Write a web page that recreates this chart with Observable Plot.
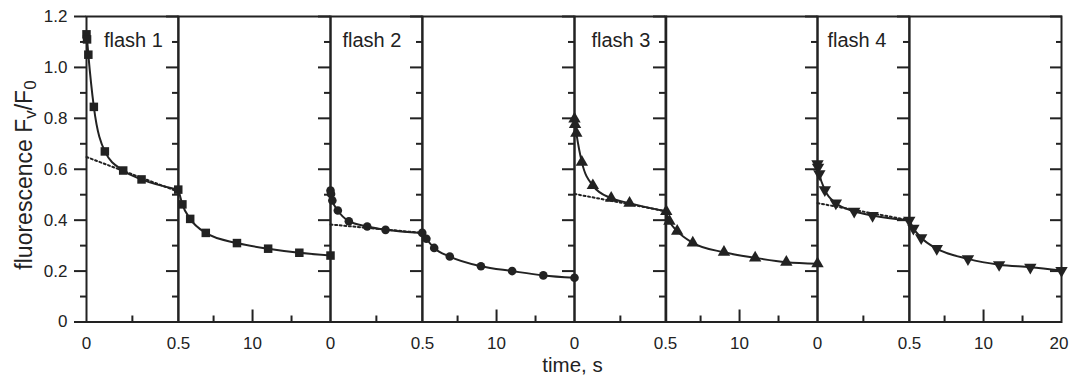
<!DOCTYPE html>
<html>
<head>
<meta charset="utf-8">
<script src="https://cdn.jsdelivr.net/npm/d3@7"></script>
<script src="https://cdn.jsdelivr.net/npm/@observablehq/plot@0.6"></script>
<style>
  html, body { margin: 0; padding: 0; background: #fff; overflow: hidden; }
  #chart { position: relative; width: 1069px; height: 375px; overflow: hidden;
           font-family: "Liberation Sans", Arial, Helvetica, sans-serif; color: #222; }
  #chart svg { position: absolute; top: 0; }
  .ytitle { position: absolute; left: 24px; top: 175px; white-space: nowrap;
            font-size: 23px; line-height: 23px;
            transform: translate(-50%, -50%) rotate(-90deg); }
  .ytitle sub { font-size: 0.74em; vertical-align: -0.28em; line-height: 0; }
  .xtitle { position: absolute; left: 572.5px; top: 355px; white-space: nowrap;
            font-size: 20.5px; line-height: 20px; transform: translateX(-50%); }
</style>
</head>
<body>
<div id="chart"></div>
<script>
// ---------------- data ----------------
const flashes = ["flash 1", "flash 2", "flash 3", "flash 4"];
const fineTimes = [0, 0.003, 0.01, 0.04, 0.1, 0.2, 0.3, 0.5];     // s, 0–0.5 s segment
const coarseTimes = [1, 2, 4, 8, 12, 16, 20];                       // s, 0.5–20 s segment

const fineF1 = [1.13, 1.11, 1.05, 0.845, 0.67, 0.595, 0.56, 0.52];
const fineF2 = [0.516, 0.503, 0.477, 0.438, 0.396, 0.375, 0.362, 0.35];
const fineF3 = [0.798, 0.776, 0.742, 0.628, 0.536, 0.486, 0.467, 0.434];
const fineF4 = [0.621, 0.608, 0.582, 0.519, 0.467, 0.435, 0.418, 0.399];

const coarseF1 = [0.462, 0.405, 0.350, 0.310, 0.288, 0.272, 0.261];
const coarseF2 = [0.327, 0.291, 0.257, 0.219, 0.200, 0.183, 0.174];
const coarseF3 = [0.396, 0.357, 0.311, 0.274, 0.252, 0.235, 0.229];
const coarseF4 = [0.368, 0.331, 0.288, 0.248, 0.225, 0.215, 0.202];

// slow-phase extrapolation (dotted), values at t = 0 and t = 0.5 s
const slowTimes = [0, 0.5];
const slowF1 = [0.648, 0.512];
const slowF2 = [0.383, 0.350];
const slowF3 = [0.503, 0.435];
const slowF4 = [0.467, 0.400];

// scales and ticks
const yDomain = [0, 1.2];
const fineDomain = [0, 0.5];
const coarseDomain = [0.5, 20];
const yMajorTicks = [0, 0.2, 0.4, 0.6, 0.8, 1.0, 1.2];
const yTickLabels = ["0", "0.2", "0.4", "0.6", "0.8", "1.0", "1.2"];
const yMinorTicks = [0.1, 0.3, 0.5, 0.7, 0.9, 1.1];
const fineMinorTicks = [0.25];
const coarseMinorTicks = [5, 15];
const coarseMajorTicks = [10];
const fineLabelTicks = [0];
const fineTickLabels = ["0"];
const coarseLabelTicks = [0.5, 10];
const coarseTickLabels = ["0.5", "10"];
const endLabelTicks = [20];
const endTickLabels = ["20"];

// ---------------- styles ----------------
const INK = "#222";
const symbols = ["square", "circle", "triangle", "triangle"];
const symbolRotate = [0, 0, 0, 180];
const symbolR = [4.8, 4.3, 4.6, 4.6];
const labelDx = [1, -4.5, 0.5, -6.5];

const fineSeries = [fineF1, fineF2, fineF3, fineF4];
const coarseSeries = [coarseF1, coarseF2, coarseF3, coarseF4];
const slowSeries = [slowF1, slowF2, slowF3, slowF4];

const X0 = 86, FINE_W = 91.75, COARSE_W = 152, BLOCK = FINE_W + COARSE_W, PAD = 30;
const H = 375, MT = 16, MB = 53.5;

const chart = document.getElementById("chart");

function fmt(values, labels) {
  return d => labels[values.indexOf(d)];
}

function panel({domain, innerW, left, ml, mr, marks}) {
  const svg = Plot.plot({
    width: ml + innerW + mr,
    height: H,
    marginLeft: ml, marginRight: mr, marginTop: MT, marginBottom: MB,
    x: {domain},
    y: {domain: yDomain},
    style: {background: "transparent", overflow: "visible", fontSize: "17px",
            fontFamily: '"Liberation Sans", Arial, Helvetica, sans-serif', color: INK},
    marks
  });
  svg.style.left = (left - ml) + "px";
  chart.appendChild(svg);
}

function yTickMarks(anchor, shift) {
  return [
    Plot.axisY(yMajorTicks, {anchor, tickSize: 12, dx: shift ? -12 : 0, strokeWidth: 2, stroke: INK, fill: "none", label: null}),
    Plot.axisY(yMinorTicks, {anchor, tickSize: 6, dx: shift ? -6 : 0, strokeWidth: 2, stroke: INK, fill: "none", label: null})
  ];
}

for (let f = 0; f < 4; f++) {
  const fine = fineTimes.map((t, i) => ({t, v: fineSeries[f][i]}));
  const coarse = [{t: 0.5, v: fineSeries[f][fineSeries[f].length - 1]}]
    .concat(coarseTimes.map((t, i) => ({t, v: coarseSeries[f][i]})));
  const slow = slowTimes.map((t, i) => ({t, v: slowSeries[f][i]}));
  const dotOpts = {x: "t", y: "v", symbol: symbols[f], r: symbolR[f], rotate: symbolRotate[f], fill: INK, stroke: "none"};
  const lineOpts = {x: "t", y: "v", curve: "monotone-x", stroke: INK, strokeWidth: 2};

  // fine segment 0–0.5 s
  const fineLeft = X0 + f * BLOCK;
  const fineMarks = [
    Plot.frame({stroke: INK, strokeWidth: 2}),
    ...yTickMarks("left", false),
    Plot.axisX(fineMinorTicks, {anchor: "bottom", tickSize: 6, dy: -6, strokeWidth: 2, stroke: INK, fill: "none", label: null}),
    Plot.axisX(fineLabelTicks, {anchor: "bottom", tickSize: 0, tickPadding: 15, tickFormat: fmt(fineLabelTicks, fineTickLabels), fill: INK, label: null}),
    Plot.line(slow, {x: "t", y: "v", stroke: INK, strokeWidth: 2, strokeDasharray: "2,2.6"}),
    Plot.line(fine, lineOpts),
    Plot.dot(fine, dotOpts),
    Plot.text([flashes[f]], {frameAnchor: "top", dx: labelDx[f], dy: 16.5, lineAnchor: "top", fontSize: 20, fill: INK})
  ];
  if (f === 0) {
    fineMarks.push(Plot.axisY(yMajorTicks, {anchor: "left", tickSize: 0, tickPadding: 19, tickFormat: fmt(yMajorTicks, yTickLabels), fill: INK, label: null}));
  }
  panel({domain: fineDomain, innerW: FINE_W, left: fineLeft, ml: f === 0 ? X0 : PAD, mr: PAD, marks: fineMarks});

  // coarse segment 0.5–20 s
  const coarseLeft = fineLeft + FINE_W;
  const last = f === 3;
  const coarseMarks = [
    Plot.frame({stroke: INK, strokeWidth: 2}),
    ...yTickMarks("left", false),
    Plot.axisX(coarseMinorTicks, {anchor: "bottom", tickSize: 6, dy: -6, strokeWidth: 2, stroke: INK, fill: "none", label: null}),
    Plot.axisX(coarseMajorTicks, {anchor: "bottom", tickSize: 12, dy: -12, strokeWidth: 2, stroke: INK, fill: "none", label: null}),
    Plot.axisX(coarseLabelTicks, {anchor: "bottom", tickSize: 0, tickPadding: 15,
      tickFormat: fmt(coarseLabelTicks, coarseTickLabels), fill: INK, label: null}),
    Plot.line(coarse, lineOpts),
    Plot.dot(coarse.slice(1), dotOpts)
  ];
  if (last) {
    coarseMarks.push(...yTickMarks("right", true));
    coarseMarks.push(Plot.axisX(endLabelTicks, {anchor: "bottom", tickSize: 0, tickPadding: 15, dx: -2.5,
      tickFormat: fmt(endLabelTicks, endTickLabels), fill: INK, label: null}));
  }
  panel({domain: coarseDomain, innerW: COARSE_W, left: coarseLeft, ml: PAD, mr: PAD, marks: coarseMarks});
}

// axis titles
const yt = document.createElement("div");
yt.className = "ytitle";
yt.innerHTML = "fluorescence F<sub>v</sub>/F<sub>0</sub>";
chart.appendChild(yt);
const xt = document.createElement("div");
xt.className = "xtitle";
xt.textContent = "time, s";
chart.appendChild(xt);
</script>
</body>
</html>
